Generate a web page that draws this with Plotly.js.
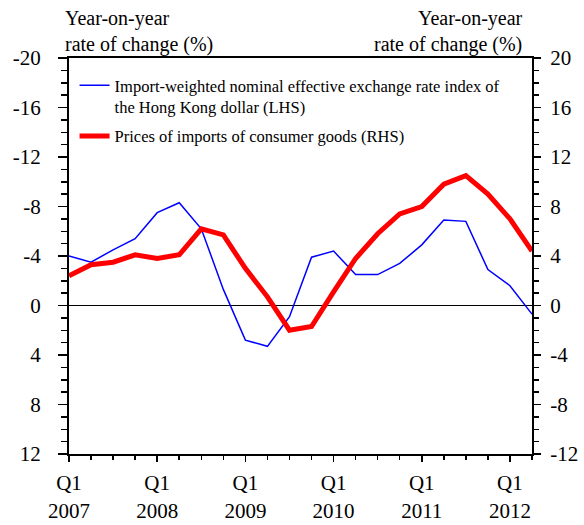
<!DOCTYPE html>
<html>
<head>
<meta charset="utf-8">
<script src="https://cdn.plot.ly/plotly-3.0.1.min.js"></script>
<style>html,body{margin:0;padding:0;background:#fff;}#chart{width:584px;height:525px;}</style>
</head>
<body>
<div id="chart"></div>
<script>
// Quarter index 0 = 2007 Q1 ... 21 = 2012 Q2
const quarters = [0,1,2,3,4,5,6,7,8,9,10,11,12,13,14,15,16,17,18,19,20,21];
const neerLHS = [-4.0,-3.5,-4.5,-5.4,-7.5,-8.3,-6.2,-1.3,2.8,3.3,0.9,-3.9,-4.4,-2.5,-2.5,-3.4,-4.9,-6.9,-6.8,-2.9,-1.6,0.7];
const importPricesRHS = [2.4,3.3,3.5,4.1,3.8,4.1,6.2,5.7,3.0,0.7,-2.0,-1.7,1.1,3.8,5.8,7.4,8.0,9.8,10.5,9.0,7.0,4.4];
const xTickVals = [0,4,8,12,16,20];
const xTickText = ["Q1<br>2007","Q1<br>2008","Q1<br>2009","Q1<br>2010","Q1<br>2011","Q1<br>2012"];
const yTickVals = [-20,-16,-12,-8,-4,0,4,8,12];
const yTickText = ["-20","-16","-12","-8","-4","0","4","8","12"];
const y2TickVals = [-12,-8,-4,0,4,8,12,16,20];
const y2TickText = ["-12","-8","-4","0","4","8","12","16","20"];

const font = "Liberation Serif, Times New Roman, serif";

const traces = [
  {
    x: quarters, y: neerLHS, type: "scatter", mode: "lines",
    name: "Import-weighted nominal effective exchange rate index of<br>the Hong Kong dollar (LHS)",
    line: {color: "#0000ff", width: 1.5}, yaxis: "y", legendgroup: "a"
  },
  {
    x: quarters, y: importPricesRHS, type: "scatter", mode: "lines",
    name: "Prices of imports of consumer goods (RHS)",
    line: {color: "#ff0000", width: 5}, yaxis: "y2", legendgroup: "b"
  }
];

const layout = {
  width: 584, height: 525,
  margin: {l: 69, r: 52, t: 58, b: 71, pad: 0},
  paper_bgcolor: "#fff", plot_bgcolor: "#fff",
  font: {family: font, size: 21, color: "#000"},
  showlegend: true,
  legend: {
    x: 0.012, y: 0.975, xanchor: "left", yanchor: "top",
    bgcolor: "rgba(0,0,0,0)", borderwidth: 0,
    font: {family: font, size: 16.5, color: "#000"},
    valign: "top", traceorder: "grouped", tracegroupgap: 5
  },
  xaxis: {
    range: [0, 21], tickmode: "array", tickvals: xTickVals, ticktext: xTickText,
    showgrid: false, zeroline: false, showline: true, linecolor: "#000", linewidth: 2,
    mirror: true, ticks: "outside", ticklen: 6, tickwidth: 1.5, tickcolor: "#000",
    minor: {dtick: 1, ticks: "outside", ticklen: 4, tickwidth: 1.5, tickcolor: "#000", showgrid: false},
    ticklabelstandoff: 3,
    tickfont: {family: font, size: 21}, fixedrange: true
  },
  yaxis: {
    range: [12, -20], tickmode: "array", tickvals: yTickVals, ticktext: yTickText,
    showgrid: false, zeroline: true, zerolinecolor: "#000", zerolinewidth: 1.5,
    showline: true, linecolor: "#000", linewidth: 2,
    ticks: "outside", ticklen: 9, tickwidth: 1.5, tickcolor: "#000",
    minor: {dtick: 1, ticks: "outside", ticklen: 6, tickwidth: 1.5, tickcolor: "#000", showgrid: false},
    ticklabelstandoff: 13,
    tickfont: {family: font, size: 21}, fixedrange: true
  },
  yaxis2: {
    range: [-12, 20], overlaying: "y", side: "right",
    tickmode: "array", tickvals: y2TickVals, ticktext: y2TickText,
    showgrid: false, zeroline: false, showline: true, linecolor: "#000", linewidth: 2,
    ticks: "outside", ticklen: 7, tickwidth: 1.5, tickcolor: "#000",
    minor: {dtick: 1, ticks: "outside", ticklen: 5, tickwidth: 1.5, tickcolor: "#000", showgrid: false},
    ticklabelstandoff: 5,
    tickfont: {family: font, size: 21}, fixedrange: true
  },
  annotations: [
    {xref: "paper", yref: "paper", x: -0.014, y: 1.0, xanchor: "left", yanchor: "bottom", align: "left",
     showarrow: false, text: "Year-on-year<br>rate of change (%)", font: {family: font, size: 20}},
    {xref: "paper", yref: "paper", x: 0.985, y: 1.0, xanchor: "right", yanchor: "bottom", align: "right",
     showarrow: false, text: "Year-on-year<br>rate of change (%)", font: {family: font, size: 20}}
  ]
};

Plotly.newPlot("chart", traces, layout, {displayModeBar: false, staticPlot: true});
</script>
</body>
</html>
